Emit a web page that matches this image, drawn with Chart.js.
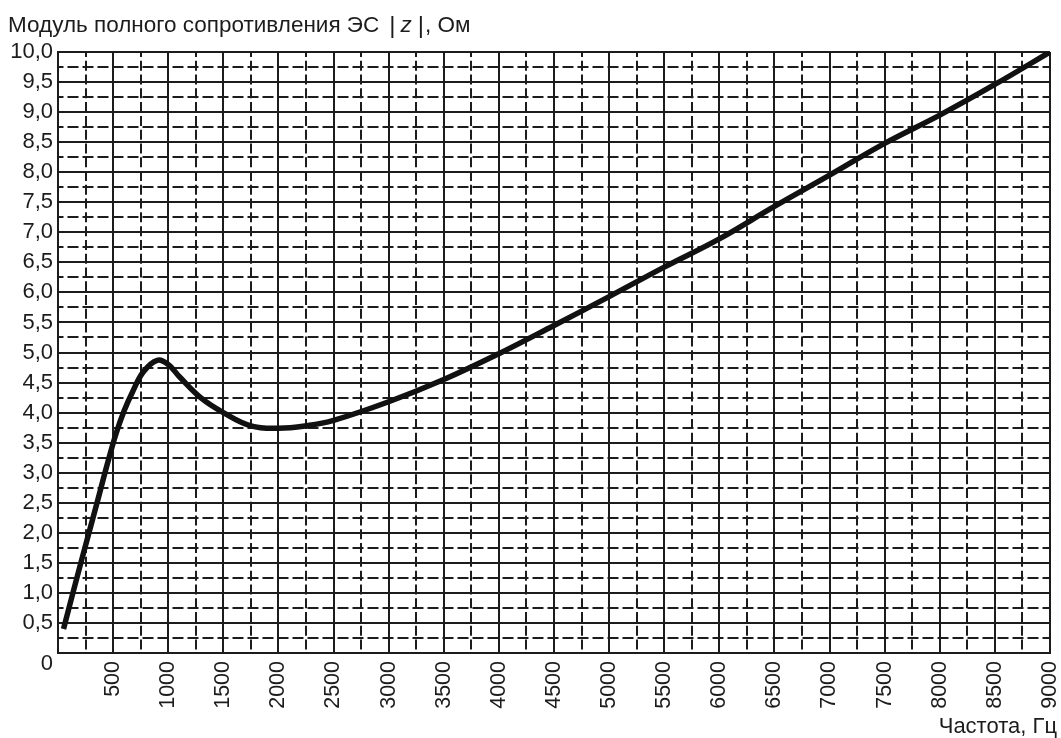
<!DOCTYPE html>
<html><head><meta charset="utf-8">
<script src="https://cdn.jsdelivr.net/npm/chart.js@4.4.1/dist/chart.umd.min.js"></script>
<style>html,body{margin:0;padding:0;background:#fff;}canvas{display:block;}</style>
</head><body>
<canvas id="c" width="1061" height="738"></canvas>
<script>
// ---- data ----
const frequencies = [50, 200, 350, 450, 525, 600, 675, 775, 900, 1000, 1100, 1300, 1500, 1750, 2000, 2250, 2500, 3000, 3500, 4000, 4500, 5000, 5500, 6000, 6500, 7000, 7500, 8000, 8500, 9000];
const impedance   = [0.40, 1.45, 2.47, 3.16, 3.64, 4.03, 4.34, 4.68, 4.87, 4.80, 4.60, 4.24, 4.00, 3.78, 3.74, 3.78, 3.87, 4.18, 4.55, 4.98, 5.45, 5.93, 6.42, 6.89, 7.43, 7.95, 8.48, 8.95, 9.46, 10.0];
const xTickLabels = ['', '500', '1000', '1500', '2000', '2500', '3000', '3500', '4000', '4500', '5000', '5500', '6000', '6500', '7000', '7500', '8000', '8500', '9000'];
const yTickLabels = ['', '0,5', '1,0', '1,5', '2,0', '2,5', '3,0', '3,5', '4,0', '4,5', '5,0', '5,5', '6,0', '6,5', '7,0', '7,5', '8,0', '8,5', '9,0', '9,5', '10,0'];
const originLabel = '0';
const yTitleParts = ['Модуль полного сопротивления ЭС', '|', 'z', '|', ', Ом'];
const xTitle = 'Частота, Гц';

const FONT = '"Liberation Sans", Arial, sans-serif';
const INK = '#1c1c1c';

const textPlugin = {
  id: 'texts',
  afterDraw(chart) {
    const ctx = chart.ctx;
    const ys = chart.scales.y;
    ctx.save();
    ctx.fillStyle = INK;
    // origin "0"
    ctx.font = '22px ' + FONT;
    ctx.textAlign = 'right';
    ctx.textBaseline = 'middle';
    ctx.fillText(originLabel, ys.right - 5, ys.getPixelForValue(0) + 11);
    // x axis title
    ctx.textAlign = 'right';
    ctx.textBaseline = 'alphabetic';
    ctx.font = '22px ' + FONT;
    ctx.fillText(xTitle, 1057, 733);
    // y axis title at top
    ctx.textAlign = 'left';
    let x = 8; const base = 32;
    ctx.font = '22.5px ' + FONT;
    ctx.fillText(yTitleParts[0], x, base);
    x += ctx.measureText(yTitleParts[0]).width + 10;
    ctx.font = '300 24px ' + FONT;
    ctx.fillText(yTitleParts[1], x, base + 1);
    x += ctx.measureText(yTitleParts[1]).width + 5;
    ctx.font = 'italic 22.5px ' + FONT;
    ctx.fillText(yTitleParts[2], x, base);
    x += ctx.measureText(yTitleParts[2]).width + 6;
    ctx.font = '300 24px ' + FONT;
    ctx.fillText(yTitleParts[3], x, base + 1);
    x += ctx.measureText(yTitleParts[3]).width + 1;
    ctx.font = '22.5px ' + FONT;
    ctx.fillText(yTitleParts[4], x, base);
    ctx.restore();
  }
};

new Chart(document.getElementById('c'), {
  type: 'line',
  data: {
    datasets: [{
      data: frequencies.map((f, i) => ({x: f, y: impedance[i]})),
      borderColor: '#111',
      borderWidth: 5.5,
      pointRadius: 0,
      fill: false,
      tension: 0.4,
      borderCapStyle: 'butt',
      borderJoinStyle: 'round'
    }]
  },
  options: {
    responsive: false,
    animation: false,
    devicePixelRatio: 1,
    layout: {padding: {top: 52, right: 11, left: 0, bottom: 0}},
    plugins: {legend: {display: false}, tooltip: {enabled: false}},
    scales: {
      xMinor: {
        type: 'linear', position: 'bottom', min: 0, max: 9000,
        ticks: {display: false, stepSize: 250},
        grid: {color: INK, lineWidth: 2, drawTicks: false, tickLength: 0},
        border: {display: false, dash: [10, 3.78], dashOffset: 5},
        afterFit(s) { s.height = 0; s.paddingLeft = 0; s.paddingRight = 0; }
      },
      yMinor: {
        type: 'linear', position: 'left', min: 0, max: 10,
        ticks: {display: false, stepSize: 0.25},
        grid: {color: INK, lineWidth: 2, drawTicks: false, tickLength: 0},
        border: {display: false, dash: [11, 4], dashOffset: 5.5},
        afterFit(s) { s.width = 0; s.paddingTop = 0; s.paddingBottom = 0; }
      },
      x: {
        type: 'linear', position: 'bottom', min: 0, max: 9000,
        ticks: {
          stepSize: 500, minRotation: 90, maxRotation: 90, autoSkip: false,
          padding: 8, color: INK, font: {family: FONT, size: 21.5},
          callback: (v) => xTickLabels[Math.round(v / 500)] ?? ''
        },
        grid: {color: INK, lineWidth: 2, drawTicks: false, tickLength: 0},
        border: {display: true, color: INK, width: 2},
        afterFit(s) { s.height = 85; s.paddingLeft = 0; s.paddingRight = 0; }
      },
      y: {
        type: 'linear', position: 'left', min: 0, max: 10,
        ticks: {
          stepSize: 0.5, padding: 5, color: INK, font: {family: FONT, size: 22},
          callback: (v) => yTickLabels[Math.round(v / 0.5)] ?? ''
        },
        grid: {color: INK, lineWidth: 2, drawTicks: false, tickLength: 0},
        border: {display: true, color: INK, width: 2},
        afterFit(s) { s.width = 58; s.paddingTop = 0; s.paddingBottom = 0; }
      }
    }
  },
  plugins: [textPlugin]
});
</script>
</body></html>
